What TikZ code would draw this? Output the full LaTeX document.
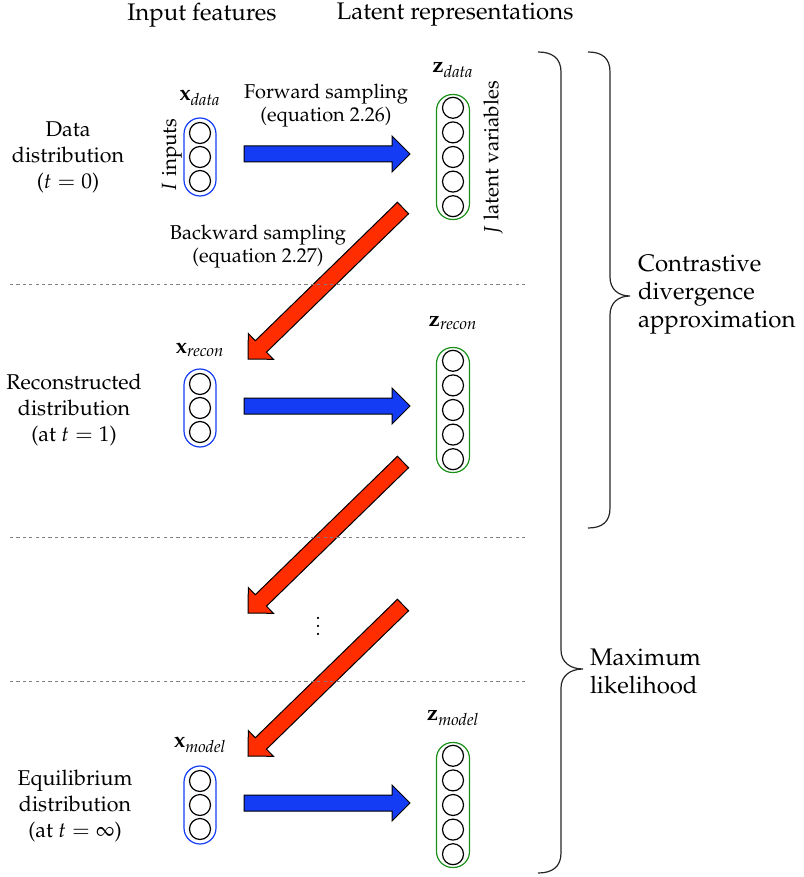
\documentclass[tikz,border=0pt]{standalone}
\usepackage[T1]{fontenc}
\usepackage{mathpazo}
\usetikzlibrary{calc}
\definecolor{fwdblue}{RGB}{20,60,245}
\definecolor{bwdred}{RGB}{255,45,0}
\definecolor{latgreen}{RGB}{25,145,25}
% fat block arrow from #2 to #3, filled with #1
\newcommand{\fatarrow}[3]{%
\coordinate (hb) at ($(#3)!9pt!(#2)$);
\filldraw[fill=#1,draw=black,line width=0.5pt,line join=miter]
 ($(#2)!4pt!90:(#3)$) -- ($(hb)!4pt!90:(#3)$) -- ($(hb)!9pt!90:(#3)$) -- (#3)
 -- ($(hb)!9pt!-90:(#3)$) -- ($(hb)!4pt!-90:(#3)$) -- ($(#2)!4pt!-90:(#3)$) -- cycle;}
\begin{document}
\begin{tikzpicture}[x=0.5pt,y=-0.5pt,inner sep=0pt,outer sep=0pt,
font=\fontsize{10}{11.5}\selectfont,
unit/.style={draw,circle,minimum size=10.5pt,line width=0.6pt},
inlayer/.style={draw=fwdblue,rectangle,rounded corners=8pt,minimum width=16pt,minimum height=39pt,line width=0.6pt},
latlayer/.style={draw=latgreen,rectangle,rounded corners=8pt,minimum width=16.5pt,minimum height=62.5pt,line width=0.6pt},
stage/.style={align=center,font=\fontsize{10.7}{13}\selectfont},
sidelabel/.style={rotate=90,font=\fontsize{10.3}{12}\selectfont},
vecname/.style={font=\fontsize{11}{13}\selectfont},
sep/.style={gray,line width=0.4pt,dash pattern=on 1.6pt off 1.6pt},
brace/.style={line width=0.6pt,black!85},
heading/.style={font=\large}]
\useasboundingbox (0,0) rectangle (803,877);
% column headings
\draw (202,15) node[heading] (hin) {Input features};
\draw (455,15) node[heading] (hlat) {Latent representations};
% stages on the left
\draw (68,157) node[stage] (ldata) {Data\\distribution\\($t = 0$)};
\draw (74,410) node[stage] (lrecon) {Reconstructed\\distribution\\(at $t = 1$)};
\draw (75,806) node[stage] (lmodel) {Equilibrium\\distribution\\(at $t = \infty$)};
% layers
\draw (200,157) node[inlayer] (xdata) {};
\draw (200,408) node[inlayer] (xrecon) {};
\draw (200,805) node[inlayer] (xmodel) {};
\draw (453,157) node[latlayer] (zdata) {};
\draw (453,410) node[latlayer] (zrecon) {};
\draw (453,805) node[latlayer] (zmodel) {};
\foreach \l in {xdata,xrecon,xmodel}
  \foreach \k in {1,2,3}
    \node[unit] (\l\k) at ([yshift={(2-\k)*12pt}]\l.center) {};
\foreach \l in {zdata,zrecon,zmodel}
  \foreach \k in {1,...,5}
    \node[unit] (\l\k) at ([yshift={(3-\k)*12.3pt}]\l.center) {};
\draw (200,98) node[vecname] (txdata) {$\mathbf{x}_{\mathit{data}}$};
\draw (200,350) node[vecname] (txrecon) {$\mathbf{x}_{\mathit{recon}}$};
\draw (200,745) node[vecname] (txmodel) {$\mathbf{x}_{\mathit{model}}$};
\draw (453,70) node[vecname] (tzdata) {$\mathbf{z}_{\mathit{data}}$};
\draw (453,323) node[vecname] (tzrecon) {$\mathbf{z}_{\mathit{recon}}$};
\draw (453,718) node[vecname] (tzmodel) {$\mathbf{z}_{\mathit{model}}$};
\draw (172,155) node[sidelabel] (tinputs) {$I$ inputs};
\draw (493,158) node[sidelabel] (tlatent) {$J$ latent variables};
% sampling arrows
\coordinate (f1a) at (244,154); \coordinate (f1b) at (410,154);
\coordinate (f2a) at (244,406); \coordinate (f2b) at (410,406);
\coordinate (f3a) at (244,803); \coordinate (f3b) at (410,803);
\coordinate (b1a) at (403,208); \coordinate (b1b) at (248,359);
\coordinate (b2a) at (403,462); \coordinate (b2b) at (248,613);
\coordinate (b3a) at (403,605); \coordinate (b3b) at (248,756);
\fatarrow{fwdblue}{f1a}{f1b}
\fatarrow{fwdblue}{f2a}{f2b}
\fatarrow{fwdblue}{f3a}{f3b}
\fatarrow{bwdred}{b1a}{b1b}
\fatarrow{bwdred}{b2a}{b2b}
\fatarrow{bwdred}{b3a}{b3b}
\draw (326,106) node[align=center] (tfwd) {Forward sampling\\(equation 2.26)};
\draw (258,247) node[align=center] (tbwd) {Backward sampling\\(equation 2.27)};
\draw (318,620) node (dots) {$\vdots$};
% separators
\draw[sep] (10,284) -- (528,284);
\draw[sep] (10,537) -- (528,537);
\draw[sep] (10,681) -- (528,681);
% braces
\draw[brace] (538,52) .. controls (552,52) and (561,58) .. (561,72) -- (561,650)
  .. controls (561,662) and (570,669) .. (583,669) .. controls (570,669) and (561,676) .. (561,688)
  -- (561,853) .. controls (561,867) and (552,873) .. (538,873);
\draw[brace] (588,52) .. controls (602,52) and (610,58) .. (610,72) -- (610,277)
  .. controls (610,289) and (618,296) .. (630,296) .. controls (618,296) and (610,303) .. (610,315)
  -- (610,508) .. controls (610,522) and (602,528) .. (588,528);
\draw (638,295) node[heading,anchor=west,align=left] (tcd) {Contrastive\\divergence\\approximation};
\draw (590,671) node[heading,anchor=west,align=left] (tml) {Maximum\\likelihood};
\end{tikzpicture}
\end{document}
